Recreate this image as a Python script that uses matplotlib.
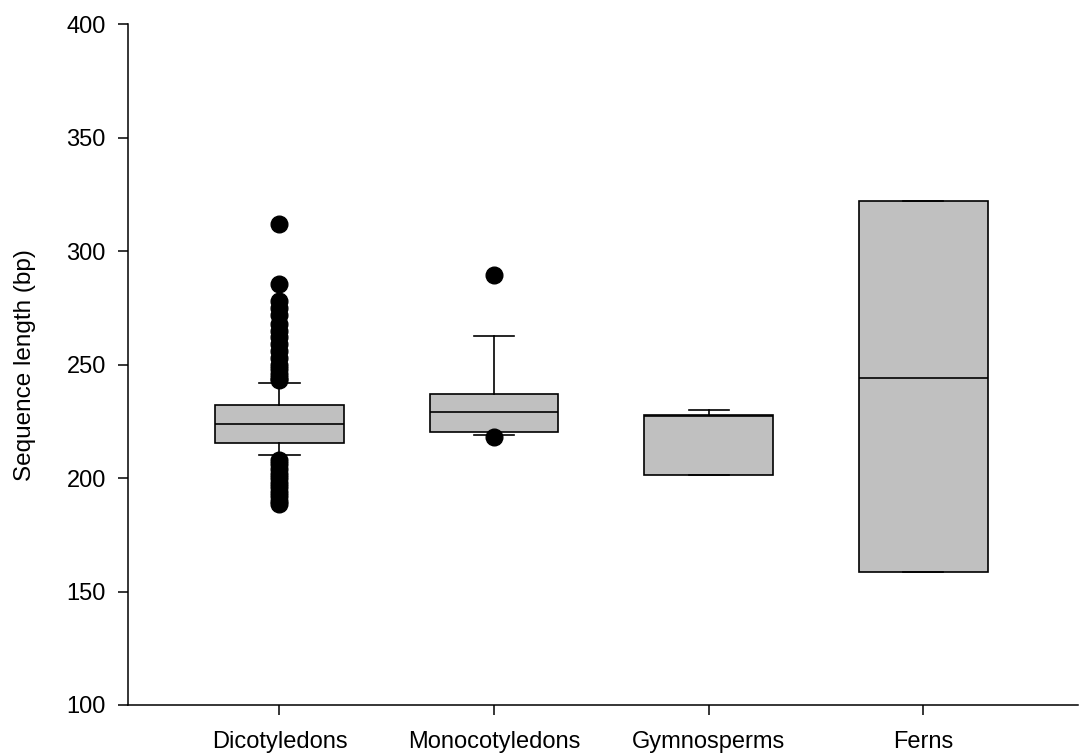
import numpy as np
import matplotlib
matplotlib.use('Agg')
import matplotlib.pyplot as plt

plt.rcParams['font.family'] = ['Liberation Sans', 'DejaVu Sans']

#-------------------------------------------------------------------------------
# Data
#-------------------------------------------------------------------------------
groups   = ['Dicotyledons', 'Monocotyledons', 'Gymnosperms', 'Ferns']
q1       = [215.5, 220.5, 201.5, 158.5]
med      = [224.0, 229.0, 227.5, 244.0]
q3       = [232.0, 237.0, 228.0, 322.0]
whis_lo  = [210.0, 219.0, 201.5, 158.5]
whis_hi  = [242.0, 262.5, 230.0, 322.0]
fliers   = [
    [312, 285.5, 278, 275, 272, 268, 265, 262, 259, 256, 253, 250, 248, 246, 244, 243,
     208, 206, 204, 202, 200, 198, 196, 194, 192, 190, 188.5],
    [289.5, 218.0],
    [],
    [],
]

#-------------------------------------------------------------------------------
# Figure
#-------------------------------------------------------------------------------
fig = plt.figure(figsize=(10.8, 7.56), dpi=100)
ax  = fig.add_axes([0.1185, 0.0675, 0.8795, 0.9005])

stats = []
for i, g in enumerate(groups):
    stats.append(dict(label=g, q1=q1[i], med=med[i], q3=q3[i],
                      whislo=whis_lo[i], whishi=whis_hi[i], fliers=fliers[i]))

positions = np.arange(1, len(groups) + 1)
ax.bxp(stats, positions=positions, widths=0.6, capwidths=0.187,
       patch_artist=True, showfliers=True,
       boxprops=dict(facecolor='#c0c0c0', edgecolor='black', linewidth=1.2),
       medianprops=dict(color='black', linewidth=1.2),
       whiskerprops=dict(color='black', linewidth=1.2),
       capprops=dict(color='black', linewidth=1.2),
       flierprops=dict(marker='o', markerfacecolor='black', markeredgecolor='black',
                       markersize=12, linestyle='none'))

ax.set_xlim(0.294, 4.72)
ax.set_ylim(100, 400)
ax.set_yticks(np.arange(100, 401, 50))
ax.set_xticks(positions)
ax.set_xticklabels(groups)

ax.set_ylabel('Sequence length (bp)', fontsize=17.5, labelpad=22)
ax.tick_params(axis='both', direction='out', length=7, width=1.1, labelsize=17)
ax.tick_params(axis='y', pad=9)
ax.tick_params(axis='x', pad=12)

for side in ['top', 'right']:
    ax.spines[side].set_visible(False)
for side in ['left', 'bottom']:
    ax.spines[side].set_linewidth(1.1)

fig.savefig('out.png', dpi=100)
plt.close()
